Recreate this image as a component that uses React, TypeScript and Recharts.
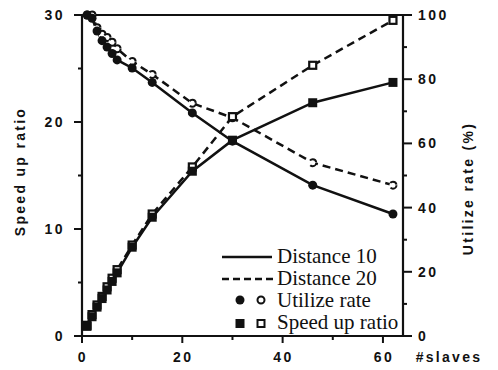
import React from 'react';
import { LineChart, Line, XAxis, YAxis, ReferenceLine, Label } from 'recharts';

// number of slave processors
const slaves = [1, 2, 3, 4, 5, 6, 7, 10, 14, 22, 30, 46, 62];
// speed up ratio
const speedD10 = [0.9, 1.8, 2.7, 3.5, 4.3, 5.1, 5.9, 8.3, 11.1, 15.4, 18.3, 21.8, 23.7];
const speedD20 = [1.0, 2.0, 2.9, 3.7, 4.6, 5.4, 6.2, 8.5, 11.4, 15.8, 20.5, 25.3, 29.5];
// utilize rate (%)
const utilD10 = [100, 99, 95, 92, 90, 88, 86, 83.5, 79, 69.5, 60.7, 47, 38];
const utilD20 = [100, 100, 96, 94, 93, 91.5, 89.5, 85.5, 81.5, 72.5, 68, 54, 47];

const xTicks = [0, 10, 20, 30, 40, 50, 60];
const speedTicks = [0, 5, 10, 15, 20, 25, 30];
const utilTicks = [0, 10, 20, 30, 40, 50, 60, 70, 80, 90, 100];

const data = slaves.map((n, i) => ({
  n,
  speed10: speedD10[i],
  speed20: speedD20[i],
  util10: utilD10[i],
  util20: utilD20[i],
}));

const INK = '#111';
const tickFont = { fontFamily: '"Liberation Sans", Arial, sans-serif', fontWeight: 700, fontSize: 14, letterSpacing: 2.5 };
const titleFont = { fontFamily: '"Liberation Sans", Arial, sans-serif', fontWeight: 700, fontSize: 14, letterSpacing: 2.3 };
const serif = '"Liberation Serif", "Times New Roman", serif';

const BottomTick = (props: any) => {
  const { x, y, payload } = props;
  const major = payload.value % 20 === 0;
  return (
    <g>
      <line x1={x} y1={y} x2={x} y2={y + (major ? 7 : 4)} stroke={INK} strokeWidth={2} />
      {major && (
        <text x={x + 1} y={y + 26} textAnchor="middle" fill={INK} style={tickFont}>
          {payload.value}
        </text>
      )}
    </g>
  );
};

const LeftTick = (props: any) => {
  const { x, y, payload } = props;
  const major = payload.value % 10 === 0;
  return (
    <g>
      <line x1={x} y1={y} x2={x - (major ? 8 : 4)} y2={y} stroke={INK} strokeWidth={2} />
      {major && (
        <text x={x - 17} y={y + 5} textAnchor="end" fill={INK} style={tickFont}>
          {payload.value}
        </text>
      )}
    </g>
  );
};

const RightTick = (props: any) => {
  const { x, y, payload } = props;
  const major = payload.value % 20 === 0;
  return (
    <g>
      <line x1={x} y1={y} x2={x + (major ? 9 : 4)} y2={y} stroke={INK} strokeWidth={2} />
      {major && (
        <text x={x + 15} y={y + 5} textAnchor="start" fill={INK} style={tickFont}>
          {payload.value}
        </text>
      )}
    </g>
  );
};

const filledSquare = (props: any) => (
  <rect key={`fs-${props.index}`} x={props.cx - 4.5} y={props.cy - 4.5} width={9} height={9} fill={INK} />
);
const openSquare = (props: any) => (
  <rect key={`os-${props.index}`} x={props.cx - 3.5} y={props.cy - 3.5} width={7} height={7} fill="#fff" stroke={INK} strokeWidth={2.2} />
);

function Legend() {
  const row = { position: 'absolute' as const, left: 0, height: 22, width: 200 };
  const text = { position: 'absolute' as const, left: 55, top: 0, fontFamily: serif, fontSize: 21, lineHeight: '22px', color: INK, whiteSpace: 'nowrap' as const };
  return (
    <div style={{ position: 'absolute', left: 222, top: 245, width: 190, height: 92, pointerEvents: 'none' }}>
      <div style={{ ...row, top: 0 }}>
        <svg width={52} height={22} style={{ position: 'absolute', left: 0, top: 0 }}>
          <line x1={0} y1={12} x2={50} y2={12} stroke={INK} strokeWidth={2.5} />
        </svg>
        <span style={text}>Distance 10</span>
      </div>
      <div style={{ ...row, top: 22 }}>
        <svg width={52} height={22} style={{ position: 'absolute', left: 0, top: 0 }}>
          <line x1={0} y1={12} x2={52} y2={12} stroke={INK} strokeWidth={2.5} strokeDasharray="7 4" />
        </svg>
        <span style={text}>Distance 20</span>
      </div>
      <div style={{ ...row, top: 44 }}>
        <svg width={52} height={22} style={{ position: 'absolute', left: 0, top: 0 }}>
          <circle cx={18} cy={11} r={4.5} fill={INK} />
          <circle cx={39} cy={11} r={3.5} fill="#fff" stroke={INK} strokeWidth={2} />
        </svg>
        <span style={text}>Utilize rate</span>
      </div>
      <div style={{ ...row, top: 66 }}>
        <svg width={52} height={22} style={{ position: 'absolute', left: 0, top: 0 }}>
          <rect x={13.5} y={8} width={9} height={9} fill={INK} />
          <rect x={35.5} y={9} width={7} height={7} fill="#fff" stroke={INK} strokeWidth={2} />
        </svg>
        <span style={text}>Speed up ratio</span>
      </div>
    </div>
  );
}

export default function App() {
  return (
    <div style={{ position: 'absolute', left: 0, top: 0, width: 498, height: 370, background: '#fff' }}>
      <LineChart width={498} height={370} data={data} margin={{ top: 15, right: 0, bottom: 0, left: 0 }}>
        <XAxis
          dataKey="n"
          type="number"
          domain={[0, 64]}
          ticks={xTicks}
          height={34}
          tickSize={0}
          tickMargin={0}
          tickLine={false}
          axisLine={{ stroke: INK, strokeWidth: 2.2 }}
          tick={BottomTick}
        >
          <Label
            content={(p: any) => {
              const vb = p.viewBox || { x: 82, y: 336, width: 321, height: 34 };
              return (
                <text x={vb.x + vb.width + 46} y={vb.y + 26} textAnchor="middle" fill={INK} style={titleFont}>
                  #slaves
                </text>
              );
            }}
          />
        </XAxis>
        <YAxis
          yAxisId="left"
          domain={[0, 30]}
          ticks={speedTicks}
          width={82}
          tickSize={0}
          tickMargin={0}
          tickLine={false}
          axisLine={{ stroke: INK, strokeWidth: 2.2 }}
          tick={LeftTick}
        >
          <Label
            content={(p: any) => {
              const vb = p.viewBox || { x: 0, y: 15, width: 82, height: 321 };
              const cx = vb.x + 20;
              const cy = vb.y + vb.height / 2 - 4;
              return (
                <text x={cx} y={cy} transform={`rotate(-90, ${cx}, ${cy})`} textAnchor="middle" dominantBaseline="central" fill={INK} style={titleFont}>
                  Speed up ratio
                </text>
              );
            }}
          />
        </YAxis>
        <YAxis
          yAxisId="right"
          orientation="right"
          domain={[0, 100]}
          ticks={utilTicks}
          width={95}
          tickSize={0}
          tickMargin={0}
          tickLine={false}
          axisLine={{ stroke: INK, strokeWidth: 2.2 }}
          tick={RightTick}
        >
          <Label
            content={(p: any) => {
              const vb = p.viewBox || { x: 403, y: 15, width: 95, height: 321 };
              const cx = vb.x + 65;
              const cy = vb.y + vb.height / 2 + 13;
              return (
                <text x={cx} y={cy} transform={`rotate(-90, ${cx}, ${cy})`} textAnchor="middle" dominantBaseline="central" fill={INK} style={titleFont}>
                  Utilize  rate  (%)
                </text>
              );
            }}
          />
        </YAxis>
        <ReferenceLine yAxisId="left" y={30} stroke={INK} strokeWidth={2.2} />

        <Line yAxisId="right" dataKey="util20" stroke={INK} strokeWidth={2.5} strokeDasharray="8 5"
          dot={{ r: 3.5, fill: '#fff', stroke: INK, strokeWidth: 2 }} isAnimationActive={false} />
        <Line yAxisId="right" dataKey="util10" stroke={INK} strokeWidth={2.5}
          dot={{ r: 4.5, fill: INK, stroke: INK, strokeWidth: 0 }} isAnimationActive={false} />
        <Line yAxisId="left" dataKey="speed20" stroke={INK} strokeWidth={2.5} strokeDasharray="8 5"
          dot={openSquare} isAnimationActive={false} />
        <Line yAxisId="left" dataKey="speed10" stroke={INK} strokeWidth={2.5}
          dot={filledSquare} isAnimationActive={false} />
      </LineChart>
      <Legend />
    </div>
  );
}
